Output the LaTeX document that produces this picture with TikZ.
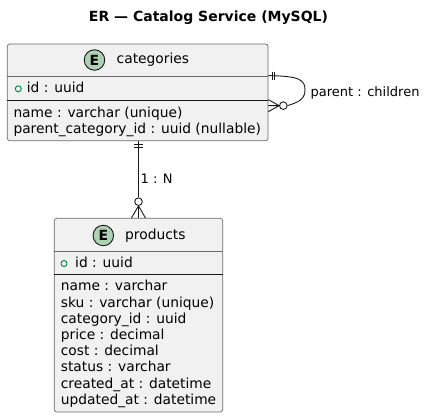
\documentclass[tikz,border=0pt]{standalone}
\usepackage{fontspec}
\setmainfont{DejaVu Sans}
\usepackage{tikz}
\definecolor{entfill}{HTML}{F1F1F1}
\definecolor{entline}{HTML}{181818}
\definecolor{emark}{HTML}{ADD1B2}
\definecolor{keygreen}{HTML}{038048}

\begin{document}
\begin{tikzpicture}[x=1pt,y=-1pt,
  entity/.style={draw=entline!65,fill=entfill,line width=0.7pt,rounded corners=2.5pt,inner sep=0pt},
  sep/.style={draw=entline!65,line width=0.7pt},
  idsep/.style={draw=entline,line width=0.9pt},
  ebadge/.style={circle,draw=entline,fill=emark,line width=0.9pt,minimum size=20.5pt,inner sep=0pt,font=\fontsize{14}{14}\bfseries\selectfont},
  keydot/.style={circle,draw=keygreen,line width=0.9pt,minimum size=6pt,inner sep=0pt},
  field/.style={anchor=west,inner sep=0pt,text height=10pt,text depth=3pt,font=\fontsize{13.8}{16}\selectfont},
  rel/.style={draw=entline,line width=0.9pt},
  reldot/.style={circle,draw=entline,fill=white,line width=0.9pt,minimum size=7.6pt,inner sep=0pt},
  rellabel/.style={anchor=west,inner sep=0pt,text height=9.5pt,text depth=2.7pt,font=\fontsize{13}{13}\selectfont}
]
  \useasboundingbox (0,0) rectangle (429,418);
  \node[font=\fontsize{14}{14}\bfseries\selectfont] (title) at (208.5,18) {ER — Catalog Service (MySQL)};

  \node[entity,minimum width=260.7pt,minimum height=96.7pt] (categories) at (137.65,92.35) {};
  \draw[sep] ([yshift=-32.5pt]categories.north west) -- ([yshift=-32.5pt]categories.north east);
  \draw[idsep] ([yshift=-56.5pt]categories.north west) -- ([yshift=-56.5pt]categories.north east);
  \node[ebadge] (catbadge) at (94.5,60) {E};
  \node[field] (cathead) at (116.5,60) {categories};
  \node[keydot] (catkey) at (18.3,88.8) {};
  \node[field] (catid) at (26.7,88.8) {id : uuid};
  \node[field] (catname) at (13.3,113.5) {name : varchar (unique)};
  \node[field] (catparent) at (13.3,129.7) {parent\_category\_id : uuid (nullable)};

  \node[entity,minimum width=168.4pt,minimum height=193.7pt] (products) at (138.5,315.15) {};
  \draw[sep] ([yshift=-33.7pt]products.north west) -- ([yshift=-33.7pt]products.north east);
  \draw[idsep] ([yshift=-56.7pt]products.north west) -- ([yshift=-56.7pt]products.north east);
  \node[ebadge] (prodbadge) at (103.3,235.5) {E};
  \node[field] (prodhead) at (125,235.5) {products};
  \node[keydot] (prodkey) at (64,263.5) {};
  \node[field] (prodid) at (75,263.5) {id : uuid};
  \foreach \f [count=\i from 0] in {name : varchar,sku : varchar (unique),category\_id : uuid,price : decimal,cost : decimal,status : varchar,created\_at : datetime,updated\_at : datetime}
    \node[field] (prodfield\i) at (60.7,287.3+16.2*\i) {\f};

  \coordinate (catbottom) at (products.north |- categories.south);
  \node[reldot] (ndot) at ([yshift=16.3pt]products.north) {};
  \draw[rel] (catbottom) -- (ndot.north);
  \draw[rel] ([xshift=-4.5pt,yshift=-3.5pt]catbottom) -- ([xshift=4.5pt,yshift=-3.5pt]catbottom);
  \draw[rel] ([xshift=-4.5pt,yshift=-6.8pt]catbottom) -- ([xshift=4.5pt,yshift=-6.8pt]catbottom);
  \draw[rel] ([xshift=-7pt]products.north) -- (ndot.south) -- ([xshift=7pt]products.north)
    (products.north) -- (ndot.south);
  \node[rellabel] (nlabel) at (140.5,180) {1 : N};

  \coordinate (selfout) at ([yshift=-32pt]categories.north east);
  \coordinate (selfin) at ([yshift=-62pt]categories.north east);
  \node[reldot] (loopdot) at ([xshift=15pt]selfin) {};
  \draw[rel] (selfout) .. controls (300,76) and (305,80) .. (305,90)
    .. controls (305,100) and (297,102.5) .. (loopdot.east);
  \draw[rel] ([xshift=3.8pt,yshift=4pt]selfout) -- ([xshift=3.8pt,yshift=-4pt]selfout);
  \draw[rel] ([xshift=6.2pt,yshift=4pt]selfout) -- ([xshift=6.2pt,yshift=-4pt]selfout);
  \draw[rel] ([yshift=6pt]selfin) -- (loopdot.west) -- ([yshift=-6pt]selfin)
    (selfin) -- (loopdot.west);
  \node[rellabel] (looplabel) at (310.5,93) {parent : children};
\end{tikzpicture}
\end{document}
